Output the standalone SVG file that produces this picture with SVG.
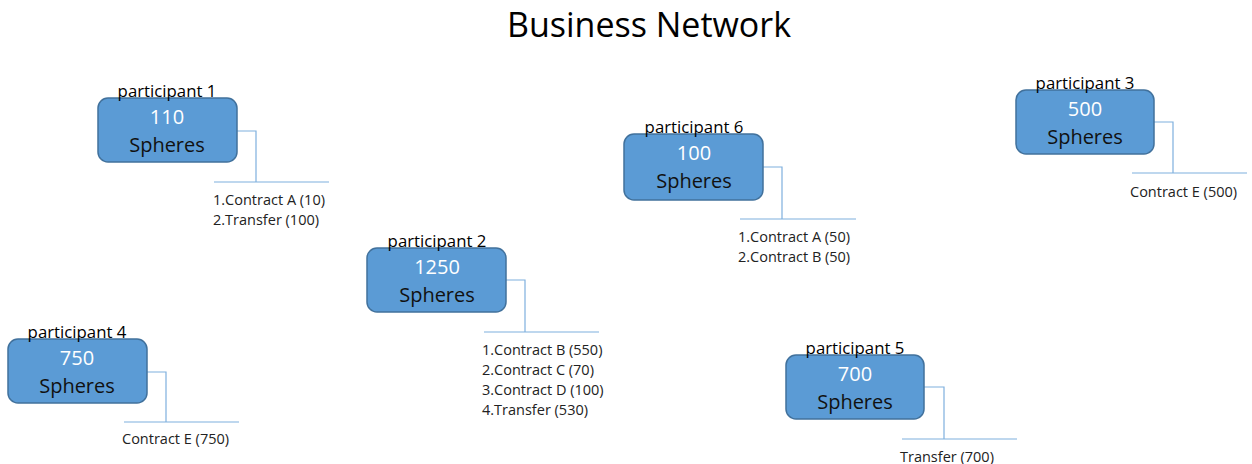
<svg xmlns="http://www.w3.org/2000/svg" width="1252" height="464" viewBox="0 0 1252 464">
<style>
text{font-family:"Open Sans","Liberation Sans",sans-serif;}
.box{fill:#5b9bd5;stroke:#41719c;stroke-width:1.5;}
.lbl{font-size:16.8px;fill:#000;text-anchor:middle;}
.num{font-size:20px;fill:#fff;text-anchor:middle;}
.sph{font-size:20px;fill:#111;text-anchor:middle;}
.note{font-size:14.5px;fill:#222;}
.con{fill:none;stroke:#7fb0de;stroke-width:1.2;}
.title{font-size:34px;fill:#000;text-anchor:middle;}
</style>
<rect width="1252" height="464" fill="#fff"/>
<text class="title" x="649" y="37">Business  Network</text>
<g id="connectors">
<polyline class="con" points="237,131 256,131 256,182"/><line class="con" x1="214" y1="182" x2="329" y2="182"/>
<polyline class="con" points="506,280 525,280 525,332"/><line class="con" x1="484" y1="332" x2="599" y2="332"/>
<polyline class="con" points="147,372 166,372 166,422"/><line class="con" x1="124" y1="422" x2="239" y2="422"/>
<polyline class="con" points="763,167 782,167 782,219"/><line class="con" x1="740" y1="219" x2="856" y2="219"/>
<polyline class="con" points="1154,122 1173,122 1173,173"/><line class="con" x1="1132" y1="173" x2="1247" y2="173"/>
<polyline class="con" points="924,387 944,387 944,439"/><line class="con" x1="902" y1="439" x2="1017" y2="439"/>
</g>
<g id="p1">
<rect class="box" x="98" y="98" width="139" height="64" rx="10"/>
<text class="lbl" x="167" y="97">participant 1</text>
<text class="num" x="167" y="124">110</text>
<text class="sph" x="167" y="152">Spheres</text>
<text class="note" x="213" y="205">1.Contract A (10)</text>
<text class="note" x="213" y="225">2.Transfer (100)</text>
</g>
<g id="p2">
<rect class="box" x="367" y="248" width="139" height="64" rx="10"/>
<text class="lbl" x="437" y="247">participant 2</text>
<text class="num" x="437" y="274">1250</text>
<text class="sph" x="437" y="302">Spheres</text>
<text class="note" x="482" y="355">1.Contract B (550)</text>
<text class="note" x="482" y="375">2.Contract C (70)</text>
<text class="note" x="482" y="395">3.Contract D (100)</text>
<text class="note" x="482" y="415">4.Transfer (530)</text>
</g>
<g id="p4">
<rect class="box" x="8" y="339" width="139" height="64" rx="10"/>
<text class="lbl" x="77" y="338">participant 4</text>
<text class="num" x="77" y="365">750</text>
<text class="sph" x="77" y="393">Spheres</text>
<text class="note" x="122" y="444">Contract E (750)</text>
</g>
<g id="p6">
<rect class="box" x="624" y="134" width="139" height="66" rx="10"/>
<text class="lbl" x="694" y="133">participant 6</text>
<text class="num" x="694" y="160">100</text>
<text class="sph" x="694" y="188">Spheres</text>
<text class="note" x="738" y="242">1.Contract A (50)</text>
<text class="note" x="738" y="262">2.Contract B (50)</text>
</g>
<g id="p3">
<rect class="box" x="1016" y="90" width="138" height="64" rx="10"/>
<text class="lbl" x="1085" y="89">participant 3</text>
<text class="num" x="1085" y="116">500</text>
<text class="sph" x="1085" y="144">Spheres</text>
<text class="note" x="1130" y="197">Contract E (500)</text>
</g>
<g id="p5">
<rect class="box" x="786" y="355" width="138" height="64" rx="10"/>
<text class="lbl" x="855" y="354">participant 5</text>
<text class="num" x="855" y="381">700</text>
<text class="sph" x="855" y="409">Spheres</text>
<text class="note" x="900" y="462">Transfer (700)</text>
</g>
</svg>
